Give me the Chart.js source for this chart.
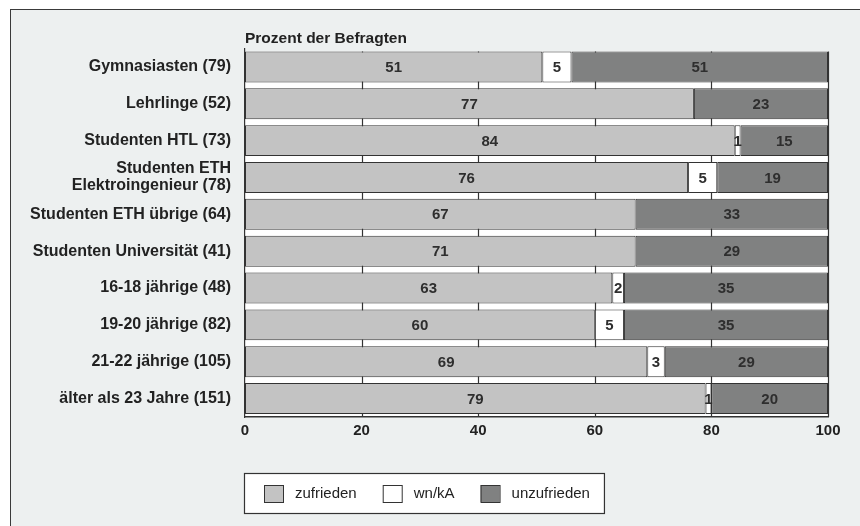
<!DOCTYPE html>
<html><head><meta charset="utf-8">
<script src="https://cdn.jsdelivr.net/npm/chart.js@4.4.0/dist/chart.umd.min.js"></script>
<style>
html,body{margin:0;padding:0;background:#fff;width:860px;height:526px;overflow:hidden}
#frame{position:absolute;left:10px;top:9px;width:880px;height:560px;border:1.5px solid #3a3a3a;background:#edf0f0}
#wrap{position:absolute;left:0;top:0;width:860px;height:526px}
</style></head><body>
<div id="frame"></div>
<div id="wrap"><canvas id="c" width="860" height="526"></canvas></div>
<script>
const categories = [
  'Gymnasiasten (79)', 'Lehrlinge (52)', 'Studenten HTL (73)',
  ['Studenten ETH', 'Elektroingenieur (78)'], 'Studenten ETH übrige (64)',
  'Studenten Universität (41)', '16-18 jährige (48)', '19-20 jährige (82)',
  '21-22 jährige (105)', 'älter als 23 Jahre (151)'
];
const seriesNames = ['zufrieden', 'wn/kA', 'unzufrieden'];
// bar lengths as drawn
const zufrieden   = [51, 77, 84, 76, 67, 67, 63, 60, 69, 79];
const wnkA        = [5, 0, 1, 5, 0, 0, 2, 5, 3, 1];
const unzufrieden = [44, 23, 15, 19, 33, 33, 35, 35, 28, 20];
// numbers printed on the bars
const zufriedenLabels   = [51, 77, 84, 76, 67, 71, 63, 60, 69, 79];
const wnkALabels        = [5, null, 1, 5, null, null, 2, 5, 3, 1];
const unzufriedenLabels = [51, 23, 15, 19, 33, 29, 35, 35, 29, 20];
const xTicks = [0, 20, 40, 60, 80, 100];
const axisTitle = 'Prozent der Befragten';

const FONT = "'Liberation Sans', Arial, Helvetica, sans-serif";
const colors = ['#c3c3c3', '#ffffff', '#808181'];
const labelArrays = [zufriedenLabels, wnkALabels, unzufriedenLabels];

const bgPlugin = {
  id: 'bgPlugin',
  beforeDraw(chart) {
    const {ctx, chartArea: a, scales: {x}} = chart;
    const el = chart.getDatasetMeta(0).data[0];
    const top = el.y - el.height / 2;
    ctx.save();
    ctx.fillStyle = '#ffffff';
    ctx.fillRect(a.left, top, a.right - a.left, a.bottom - top);
    ctx.strokeStyle = '#333';
    ctx.lineWidth = 1.2;
    xTicks.slice(1).forEach(v => {
      const px = Math.round(x.getPixelForValue(v)) + 0.5;
      ctx.beginPath(); ctx.moveTo(px, top); ctx.lineTo(px, a.bottom); ctx.stroke();
    });
    ctx.restore();
  },
  afterDatasetsDraw(chart) {
    const {ctx} = chart;
    ctx.save();
    ctx.font = 'bold 15px ' + FONT;
    ctx.fillStyle = '#2e2e2e';
    ctx.textAlign = 'center';
    ctx.textBaseline = 'middle';
    chart.data.datasets.forEach((ds, i) => {
      chart.getDatasetMeta(i).data.forEach((el, j) => {
        const t = labelArrays[i][j];
        if (t === null || t === undefined) return;
        ctx.fillText(String(t), (el.x + el.base) / 2, el.y + 1);
      });
    });
    ctx.restore();
  },
  afterDraw(chart) {
    const {ctx, chartArea: a} = chart;
    ctx.save();
    // axis title
    ctx.font = 'bold 15.5px ' + FONT;
    ctx.fillStyle = '#222';
    ctx.textAlign = 'left';
    ctx.textBaseline = 'alphabetic';
    ctx.fillText(axisTitle, a.left, 43);
    // legend
    ctx.font = '15px ' + FONT;
    const fx = a.left - 1, fy = a.bottom + 56, fh = 40;
    let x = fx + 20;
    const items = chart.data.datasets.map((ds, i) => {
      const w = ctx.measureText(ds.label).width;
      const it = {x, w, color: ds.backgroundColor, label: ds.label};
      x += 19 + 12 + w + 26;
      return it;
    });
    const fw = x - 26 + 14 - fx;
    ctx.fillStyle = '#ffffff';
    ctx.fillRect(fx, fy, fw, fh);
    ctx.strokeStyle = '#333';
    ctx.lineWidth = 1.2;
    ctx.strokeRect(fx + 0.5, fy + 0.5, fw, fh);
    items.forEach(it => {
      ctx.fillStyle = it.color;
      ctx.fillRect(it.x, fy + 12, 19, 17);
      ctx.strokeStyle = '#333';
      ctx.lineWidth = 1;
      ctx.strokeRect(it.x + 0.5, fy + 12.5, 19, 17);
      ctx.fillStyle = '#222';
      ctx.textBaseline = 'middle';
      ctx.fillText(it.label, it.x + 19 + 12, fy + 21);
    });
    ctx.restore();
  }
};

new Chart(document.getElementById('c'), {
  type: 'bar',
  data: {
    labels: categories,
    datasets: [
      {label: seriesNames[0], data: zufrieden, backgroundColor: colors[0]},
      {label: seriesNames[1], data: wnkA, backgroundColor: colors[1]},
      {label: seriesNames[2], data: unzufrieden, backgroundColor: colors[2]}
    ].map(d => Object.assign(d, {borderColor: '#333', borderWidth: 1, borderSkipped: false,
      barPercentage: 0.84, categoryPercentage: 1}))
  },
  options: {
    indexAxis: 'y',
    responsive: false,
    devicePixelRatio: 1,
    animation: false,
    layout: {padding: {top: 48.5, right: 32, bottom: 79, left: 0}},
    plugins: {legend: {display: false}, title: {display: false}, tooltip: {enabled: false}},
    scales: {
      x: {
        stacked: true, min: 0, max: 100,
        afterBuildTicks(s) { s.ticks = xTicks.map(v => ({value: v})); },
        afterFit(s) { s.height = 30; },
        grid: {display: false, drawTicks: false},
        border: {display: true, color: '#333', width: 1.5},
        ticks: {font: {family: FONT, size: 15, weight: 'bold'}, color: '#222', padding: 5}
      },
      y: {
        stacked: true,
        afterFit(s) { s.width = 245; },
        grid: {display: false, drawTicks: false},
        border: {display: true, color: '#333', width: 1.2},
        ticks: {font: {family: FONT, size: 16, weight: 'bold', lineHeight: 1.05}, color: '#222', padding: 14}
      }
    }
  },
  plugins: [bgPlugin]
});
</script>
</body></html>
